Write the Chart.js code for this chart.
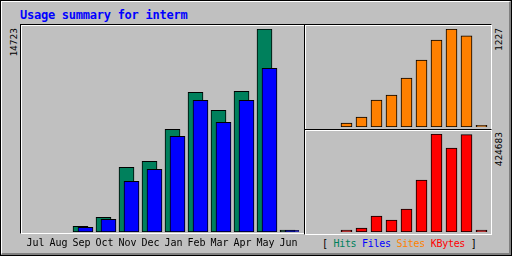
<!DOCTYPE html>
<html>
<head>
<meta charset="utf-8">
<script src="https://cdn.jsdelivr.net/npm/chart.js@4.4.0/dist/chart.umd.min.js"></script>
<style>
  body { margin: 0; }
  #wrap { position: relative; width: 512px; height: 256px; background: #c0c0c0; overflow: hidden; }
  .abs { position: absolute; box-sizing: border-box; }
  #outer { left: 0; top: 0; width: 512px; height: 256px; border: 1px solid #000; }
  #bevel { left: 1px; top: 1px; width: 510px; height: 254px;
           border-top: 1px solid #fff; border-left: 1px solid #fff;
           border-right: 2px solid #808080; border-bottom: 2px solid #808080; }
  .panel { border-top: 1px solid #000; border-left: 1px solid #000;
           border-right: 1px solid #fff; border-bottom: 1px solid #fff;
           box-shadow: inset 1px 1px 0 #fff; }
  #title { left: 20px; top: 8px; font: bold 12px/14px "DejaVu Sans Mono", monospace;
           letter-spacing: -0.25px; color: #0000ff; white-space: pre; }
  .vlab { font: 9.5px/12px "DejaVu Sans Mono", monospace; color: #000;
          writing-mode: vertical-rl; transform: rotate(180deg); white-space: pre; }
  #legend { left: 322px; top: 238px; font: 10px/12px "DejaVu Sans Mono", monospace;
            letter-spacing: -0.3px; white-space: pre; color: #000; }
  canvas { position: absolute; left: 0; top: 0; }
</style>
</head>
<body>
<div id="wrap">
  <div class="abs" id="outer"></div>
  <div class="abs" id="bevel"></div>
  <div class="abs panel" style="left:20px; top:24px; width:285px; height:210px;"></div>
  <div class="abs panel" style="left:304px; top:24px; width:188px; height:106px;"></div>
  <div class="abs panel" style="left:304px; top:129px; width:188px; height:106px;"></div>
  <div class="abs" id="title">Usage summary for interm</div>
  <div class="abs vlab" id="maxHits" style="left:8px; top:28px;"></div>
  <div class="abs vlab" id="maxSites" style="left:493px; top:28px;"></div>
  <div class="abs vlab" id="maxKbytes" style="left:493px; top:132px;"></div>
  <div class="abs" id="legend">[ <span style="color:#00805c">Hits</span> <span style="color:#0000ff">Files</span> <span style="color:#ff8000">Sites</span> <span style="color:#ff0000">KBytes</span> ]</div>
  <canvas id="mainChart" width="512" height="256"></canvas>
  <canvas id="sitesChart" width="512" height="256"></canvas>
  <canvas id="kbytesChart" width="512" height="256"></canvas>
</div>
<script>
const months = ['Jul', 'Aug', 'Sep', 'Oct', 'Nov', 'Dec', 'Jan', 'Feb', 'Mar', 'Apr', 'May', 'Jun'];
const hits = [0, 0, 415, 1066, 4690, 5125, 7447, 10130, 8825, 10200, 14723, 140];
const files = [0, 0, 340, 920, 3675, 4545, 6940, 9550, 7955, 9550, 11870, 120];
const sites = [0, 0, 50, 125, 338, 400, 613, 839, 1089, 1227, 1143, 20];
const kbytes = [0, 0, 8000, 17300, 69300, 52000, 99700, 225300, 424683, 364000, 422000, 8000];

const hitColor = '#00805c';
const fileColor = '#0000ff';
const siteColor = '#ff8000';
const kbyteColor = '#ff0000';
const tickFont = { family: 'DejaVu Sans Mono', size: 10 };

const maxHits = Math.max(...hits);
const maxSites = Math.max(...sites);
const maxKbytes = Math.max(...kbytes);

document.getElementById('maxHits').textContent = String(maxHits);
document.getElementById('maxSites').textContent = String(maxSites);
document.getElementById('maxKbytes').textContent = String(maxKbytes);

function barSet(label, data, color, extra) {
    return Object.assign({
        label: label,
        data: data,
        backgroundColor: color,
        borderColor: '#000',
        borderWidth: 1,
        borderSkipped: false
    }, extra);
}

const common = {
    responsive: false,
    animation: false,
    devicePixelRatio: 1,
    plugins: { legend: { display: false }, tooltip: { enabled: false } }
};

// hits and files share a panel, files sit a few pixels right of hits (own hidden axis)
new Chart(document.getElementById('mainChart'), {
    type: 'bar',
    data: {
        labels: months,
        datasets: [
            barSet('Hits', hits, hitColor, { xAxisID: 'x', barThickness: 15, grouped: false, order: 2 }),
            barSet('Files', files.map((v, i) => ({ x: i, y: v })), fileColor,
                   { xAxisID: 'xf', barThickness: 15, grouped: false, order: 1 })
        ]
    },
    options: Object.assign({}, common, {
        layout: { padding: { left: 23, right: 213, top: 29, bottom: 0 } },
        scales: {
            x: {
                type: 'category',
                grid: { display: false, drawTicks: false },
                border: { display: false },
                ticks: { font: tickFont, color: '#000', padding: 5, maxRotation: 0,
                         autoSkip: false, labelOffset: 1 },
                afterFit: s => { s.height = 24; }
            },
            xf: { type: 'linear', display: false, offset: false, min: -0.717, max: 11.283 },
            y: { display: false, min: 0, max: maxHits }
        }
    })
});

new Chart(document.getElementById('sitesChart'), {
    type: 'bar',
    data: { labels: months, datasets: [barSet('Sites', sites, siteColor, { barThickness: 11 })] },
    options: Object.assign({}, common, {
        layout: { padding: { left: 309, right: 23, top: 29, bottom: 129 } },
        scales: { x: { display: false }, y: { display: false, min: 0, max: maxSites } }
    })
});

new Chart(document.getElementById('kbytesChart'), {
    type: 'bar',
    data: { labels: months, datasets: [barSet('KBytes', kbytes, kbyteColor, { barThickness: 11 })] },
    options: Object.assign({}, common, {
        layout: { padding: { left: 309, right: 23, top: 134, bottom: 24 } },
        scales: { x: { display: false }, y: { display: false, min: 0, max: maxKbytes } }
    })
});
</script>
</body>
</html>
